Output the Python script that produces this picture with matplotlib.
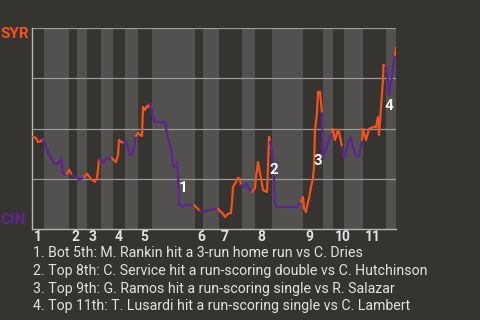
import bisect
import matplotlib
matplotlib.use('Agg')
import matplotlib.pyplot as plt
from matplotlib.transforms import blended_transform_factory

# game progress (x) and SYR win probability in percent (y)
progress = [1, 4, 6, 9, 11, 13, 15, 17, 20, 22, 25, 27, 29, 30, 31, 33, 35, 37, 40, 45,
            48, 52, 55, 60, 63, 65, 66, 67, 69, 72, 75, 78, 80, 82, 84, 86, 87, 89, 92, 94,
            96, 98, 100, 102, 104, 106, 108, 110, 111, 113, 115, 116, 118, 120, 122, 133, 134, 136, 139, 140,
            141, 144, 145, 146, 147, 148, 151, 154, 162, 166, 168, 171, 176, 186, 188, 191, 193, 196, 199, 200,
            201, 204, 206, 208, 209, 211, 214, 218, 220, 223, 224, 226, 227, 229, 231, 235, 236, 237, 238, 240,
            242, 243, 245, 265, 269, 271, 272, 274, 275, 277, 279, 281, 282, 283, 285, 286, 288, 290, 291, 296,
            297, 300, 301, 303, 306, 307, 310, 312, 313, 316, 319, 321, 324, 327, 330, 331, 334, 337, 341, 344,
            346, 347, 349, 351, 351.5, 353, 354, 356, 357, 358, 360, 361, 363, 364]
win_prob = [45.8, 45.3, 43.3, 43.8, 44.8, 42.3, 39.3, 37.3, 34.3, 32.3, 32.3, 33.3, 35.3, 32.3, 27.4, 26.9, 27.4, 29.4, 26.9, 25.4,
            24.6, 25.9, 27.4, 24.4, 23.6, 25.4, 29.4, 34.8, 33.8, 33.3, 35.3, 34.8, 35.3, 34.3, 33.3, 36.8, 44.3, 43.3, 42.8, 43.8,
            40.3, 36.8, 36.8, 40.8, 46.3, 47.8, 46.8, 46.3, 60.7, 59.2, 61.2, 60.7, 62.2, 59.2, 53.2, 53.2, 50.2, 45.3, 40.3, 36.8,
            31.3, 30.8, 33.3, 25.4, 11.9, 11.9, 10.9, 11.9, 11.9, 10.0, 9.0, 8.5, 9.5, 10.0, 9.0, 7.5, 6.0, 7.5, 8.0, 13.4,
            20.9, 23.4, 25.4, 24.9, 21.9, 20.9, 22.4, 19.4, 18.4, 20.4, 25.9, 33.3, 30.3, 25.4, 19.4, 18.4, 30.8, 45.8, 43.3, 39.3,
            25.9, 12.9, 10.9, 10.9, 13.4, 15.9, 10.4, 8.5, 11.4, 15.4, 20.9, 25.4, 30.8, 49.3, 57.7, 68.2, 68.2, 57.7, 35.8, 42.8,
            44.3, 48.3, 49.8, 44.3, 49.3, 48.3, 40.8, 35.8, 36.8, 42.8, 45.8, 40.3, 36.3, 36.3, 44.3, 49.8, 44.3, 49.8, 50.7, 50.7,
            55.7, 46.8, 60.7, 74.1, 81.6, 80.1, 80.6, 74.1, 66.7, 70.6, 75.6, 81.6, 86.6, 90.0]

# start of each half inning (top 1st, bot 1st, top 2nd, ...) and end of game
half_starts = [0, 12, 37, 45, 55, 69, 81, 93, 106, 120, 163, 171, 187, 210, 223, 240,
               271, 291, 301, 312, 331, 354, 364]
inning_labels = ['1', '2', '3', '4', '5', '6', '7', '8', '9', '10', '11']

# key plays: index into the series, and caption
key_plays = [64, 97, 115, 144]
key_text = [
    "1. Bot 5th: M. Rankin hit a 3-run home run vs C. Dries",
    "2. Top 8th: C. Service hit a run-scoring double vs C. Hutchinson",
    "3. Top 9th: G. Ramos hit a run-scoring single vs R. Salazar",
    "4. Top 11th: T. Lusardi hit a run-scoring single vs C. Lambert",
]

bg = '#363430'
band = '#525150'
syr_col = '#F4511E'
cin_col = '#5E2590'
txt_col = '#e2e2e2'

plt.rcParams['font.family'] = ['Roboto', 'DejaVu Sans']

fig = plt.figure(figsize=(4.8, 3.2), dpi=100, facecolor=bg)
ax = fig.add_axes([32 / 480, 1 - 229 / 320, 364 / 480, 201 / 320])
ax.set_facecolor(bg)
ax.set_xlim(half_starts[0], half_starts[-1])
ax.set_ylim(0, 100)

# shade bottom halves
for i in range(1, len(half_starts) - 1, 2):
    ax.axvspan(half_starts[i], half_starts[i + 1], color=band, lw=0, zorder=0)

for g in [25, 50, 75, 100]:
    ax.axhline(g, color='#9a9a9a', lw=0.9, zorder=1)

# line coloured by batting team
for i in range(len(progress) - 1):
    h = bisect.bisect_right(half_starts, progress[i + 1]) - 1
    col = syr_col if h % 2 == 0 else cin_col
    ax.plot(progress[i:i + 2], win_prob[i:i + 2], color=col, lw=1.6,
            solid_capstyle='round', zorder=3)

for s in ['top', 'right']:
    ax.spines[s].set_visible(False)
for s in ['left', 'bottom']:
    ax.spines[s].set_color('#b5b5b5')
    ax.spines[s].set_linewidth(1.0)
ax.set_xticks([])
ax.set_yticks([])

# inning numbers
trans = blended_transform_factory(ax.transData, ax.transAxes)
for k, lab in enumerate(inning_labels):
    ax.annotate(lab, xy=(half_starts[2 * k], 0), xycoords=trans,
                xytext=(2, -8), textcoords='offset pixels',
                ha='left', va='center', fontsize=10, fontweight='bold', color=txt_col)

# team labels
ytrans = blended_transform_factory(ax.transAxes, ax.transData)
ax.annotate('SYR', xy=(0, 97), xycoords=ytrans, xytext=(-3, 0), textcoords='offset pixels',
            ha='right', va='center', fontsize=11, fontweight='bold', color=syr_col)
ax.annotate('CIN', xy=(0, 4.5), xycoords=ytrans, xytext=(-6, 0), textcoords='offset pixels',
            ha='right', va='center', fontsize=11, fontweight='bold', color=cin_col)

# key play markers
offsets = [(4, -17), (5, 33), (0, 69), (5, 41)]
for n, (idx, off) in enumerate(zip(key_plays, offsets)):
    ax.annotate(str(n + 1), xy=(progress[idx], win_prob[idx]),
                xytext=(off[0], -off[1]), textcoords='offset pixels',
                ha='center', va='center', fontsize=11, fontweight='bold',
                color='white', zorder=5)

for n, t in enumerate(key_text):
    fig.text(33 / 480, 1 - (253 + 17.8 * n) / 320, t, ha='left', va='center',
             fontsize=10.15, color=txt_col)

fig.savefig('out.png', dpi=100, facecolor=bg)
